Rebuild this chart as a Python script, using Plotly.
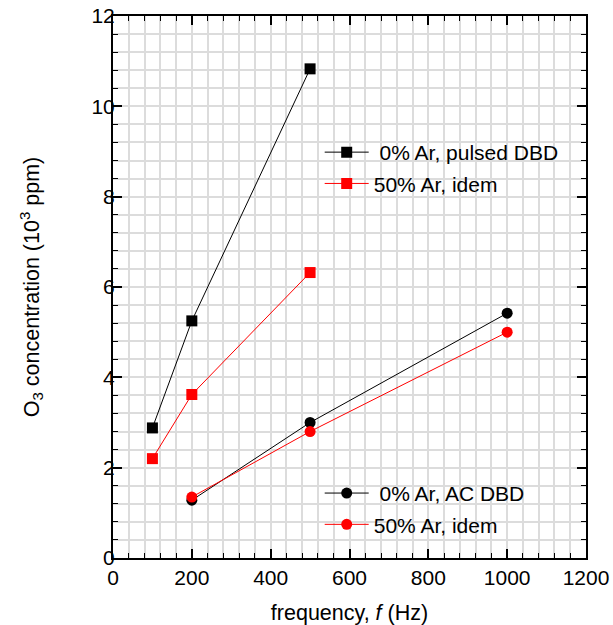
import plotly.graph_objects as go

# Data
freq_pulsed = [100, 200, 500]
o3_pulsed_0ar = [2.88, 5.25, 10.83]
o3_pulsed_50ar = [2.2, 3.62, 6.32]

freq_ac = [200, 500, 1000]
o3_ac_0ar = [1.28, 3.0, 5.42]
o3_ac_50ar = [1.35, 2.8, 5.0]

names = ["\u00a00% Ar, pulsed DBD", "50% Ar, idem", "\u00a00% Ar, AC DBD", "50% Ar, idem"]

fig = go.Figure()
fig.add_trace(go.Scatter(x=freq_pulsed, y=o3_pulsed_0ar, mode="lines+markers", name=names[0],
                         line=dict(color="black", width=1),
                         marker=dict(symbol="square", size=11, color="black"),
                         legend="legend", legendgroup="a"))
fig.add_trace(go.Scatter(x=freq_pulsed, y=o3_pulsed_50ar, mode="lines+markers", name=names[1],
                         line=dict(color="red", width=1),
                         marker=dict(symbol="square", size=11, color="red"),
                         legend="legend", legendgroup="b"))
fig.add_trace(go.Scatter(x=freq_ac, y=o3_ac_0ar, mode="lines+markers", name=names[2],
                         line=dict(color="black", width=1),
                         marker=dict(symbol="circle", size=11, color="black"),
                         legend="legend2", legendgroup="c"))
fig.add_trace(go.Scatter(x=freq_ac, y=o3_ac_50ar, mode="lines+markers", name=names[3],
                         line=dict(color="red", width=1),
                         marker=dict(symbol="circle", size=11, color="red"),
                         legend="legend2", legendgroup="d"))

font_family = "Liberation Sans, Arial, sans-serif"
grid_color = "#dcdcdc"

fig.update_layout(
    width=613, height=625,
    margin=dict(l=113, r=27, t=16, b=67),
    plot_bgcolor="white", paper_bgcolor="white",
    font=dict(family=font_family, size=21, color="black"),
    showlegend=True,
    legend=dict(x=0.437, y=0.786, xanchor="left", yanchor="top", bgcolor="rgba(0,0,0,0)",
                font=dict(size=21), tracegroupgap=1, traceorder="grouped", itemwidth=44),
    legend2=dict(x=0.437, y=0.157, xanchor="left", yanchor="top", bgcolor="rgba(0,0,0,0)",
                 font=dict(size=21), tracegroupgap=1, traceorder="grouped", itemwidth=44),
)

fig.update_xaxes(
    range=[0, 1200], dtick=200, tick0=0, automargin=False,
    showline=True, linecolor="black", linewidth=2, mirror="allticks",
    ticks="inside", ticklen=9, tickcolor="black", tickwidth=1.5,
    showgrid=True, gridcolor=grid_color, gridwidth=1.5,
    zeroline=False, ticklabeloverflow="allow",
    minor=dict(dtick=40, showgrid=True, gridcolor=grid_color, gridwidth=1.5,
               ticks="inside", ticklen=5, tickcolor="black", tickwidth=1),
    tickfont=dict(size=21),
    title=dict(text="frequency, <i>f</i> (Hz)", font=dict(size=21.5), standoff=18),
)
fig.update_yaxes(
    range=[0, 12], dtick=2, tick0=0, automargin=False,
    showline=True, linecolor="black", linewidth=2, mirror="allticks",
    ticks="inside", ticklen=9, tickcolor="black", tickwidth=1.5,
    showgrid=True, gridcolor=grid_color, gridwidth=1.5,
    zeroline=False, ticklabelstandoff=-8, ticklabeloverflow="allow",
    minor=dict(dtick=0.4, showgrid=True, gridcolor=grid_color, gridwidth=1.5,
               ticks="inside", ticklen=5, tickcolor="black", tickwidth=1),
    tickfont=dict(size=21),
    title=dict(text="O<sub>3</sub> concentration (10<sup>3</sup> ppm)", font=dict(size=21.5), standoff=46),
)

fig.write_html("out.html", config={"displayModeBar": False},
               post_script="document.body.style.margin='0';document.body.style.overflow='hidden';")
